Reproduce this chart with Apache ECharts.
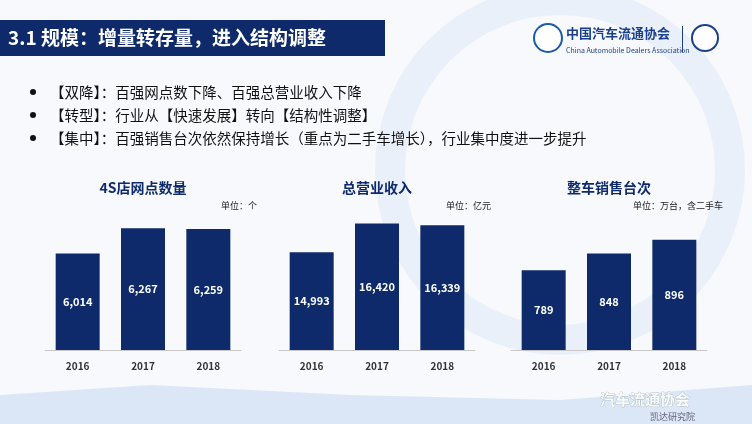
<!DOCTYPE html>
<html><head><meta charset="utf-8">
<script src="https://cdn.jsdelivr.net/npm/echarts@6/dist/echarts.min.js"></script>
<style>html,body{margin:0;padding:0;background:#fff}#c{width:752px;height:424px}</style>
</head><body><div id="c"></div>
<script>
const years = ['2016','2017','2018'];
const stores = [6014, 6267, 6259];
const revenue = [14993, 16420, 16339];
const sales = [789, 848, 896];
const titles = ['4S店网点数量','总营业收入','整车销售台次'];
const units = ['单位：个','单位：亿元','单位：万台，含二手车'];
const bullets = ['【双降】：百强网点数下降、百强总营业收入下降','【转型】：行业从【快速发展】转向【结构性调整】','【集中】：百强销售台次依然保持增长（重点为二手车增长），行业集中度进一步提升'];

const chart = echarts.init(document.getElementById('c'));
const F = '"Noto Sans CJK SC", "Noto Sans", sans-serif';
const lefts = [45, 279, 511];
const ranges = [[5050,7050],[10100,20100],[510,1210]];
const datas = [stores, revenue, sales];
const grids = [], xAxes = [], yAxes = [], series = [], gfx = [];
lefts.forEach((l,i)=>{
  grids.push({left:l, width:196, top:150, height:200});
  xAxes.push({type:'category', gridIndex:i, data:years, axisTick:{show:false},
    axisLine:{lineStyle:{color:'#c8c8c8'}}, axisLabel:{color:'#333', fontSize:10, fontWeight:'bold', margin:11, fontFamily:F}});
  yAxes.push({type:'value', gridIndex:i, min:ranges[i][0], max:ranges[i][1], show:false, splitLine:{show:false}});
  series.push({type:'bar', xAxisIndex:i, yAxisIndex:i, data:datas[i], barWidth:44,
    itemStyle:{color:'#0e2a6b'},
    label:{show:true, position:'inside', color:'#fff', fontSize:11, fontWeight:'bold', fontFamily:F,
      formatter:p=>p.value.toLocaleString('en-US')}});
  gfx.push({type:'text', x:l+98, y:181, style:{text:titles[i], textAlign:'center', font:'bold 14px '+F, fill:'#0e2a6b'}});
  gfx.push({type:'text', right:752-(l+212), top:201, style:{text:units[i], font:'9px '+F, fill:'#222'}});
});

const bg = [
  {type:'rect', shape:{x:0,y:0,width:752,height:424}, style:{fill:'#f7f9fd'}, z:-10},
  {type:'polygon', shape:{points:[[0,395],[150,385],[350,395],[560,400],[752,385],[752,424],[0,424]]}, style:{fill:'#dbe7f6'}, z:-9},
  {type:'circle', shape:{cx:560,cy:170,r:170}, style:{fill:'none', stroke:'#eaf0f9', lineWidth:30}, z:-9},
  {type:'rect', shape:{x:0,y:20,width:385,height:36}, style:{fill:'#0e2a6b'}},
  {type:'text', x:8, y:38, style:{text:'3.1 规模：增量转存量，进入结构调整', font:'bold 19px '+F, fill:'#fff', textVerticalAlign:'middle'}},
  {type:'circle', shape:{cx:548,cy:38,r:14}, style:{fill:'#fff', stroke:'#1a5aa8', lineWidth:2}},
  {type:'text', x:566, y:33, style:{text:'中国汽车流通协会', font:'bold 13px '+F, fill:'#1a3f8c', textVerticalAlign:'middle'}},
  {type:'text', x:566, y:50, style:{text:'China Automobile Dealers Association', font:'7px '+F, fill:'#1a3f8c', textVerticalAlign:'middle'}},
  {type:'rect', shape:{x:682,y:26,width:1,height:26}, style:{fill:'#1a3f8c'}},
  {type:'circle', shape:{cx:705,cy:38,r:13}, style:{fill:'#fff', stroke:'#1a3f8c', lineWidth:2}},
  {type:'text', x:600, y:392, style:{text:'汽车流通协会', font:'bold 15px '+F, fill:'rgba(255,255,255,0.9)', stroke:'#9aa', lineWidth:0.5}},
  {type:'text', x:650, y:412, style:{text:'凯达研究院', font:'9px '+F, fill:'#667'}}
];
bullets.forEach((b,i)=>{
  bg.push({type:'circle', shape:{cx:33,cy:92+i*23,r:3}, style:{fill:'#111'}});
  bg.push({type:'text', x:50, y:92+i*23, style:{text:b, font:'14.5px '+F, fill:'#111', textVerticalAlign:'middle'}});
});

chart.setOption({
  animation:false,
  grid:grids, xAxis:xAxes, yAxis:yAxes, series:series,
  graphic:bg.concat(gfx)
});
</script></body></html>
